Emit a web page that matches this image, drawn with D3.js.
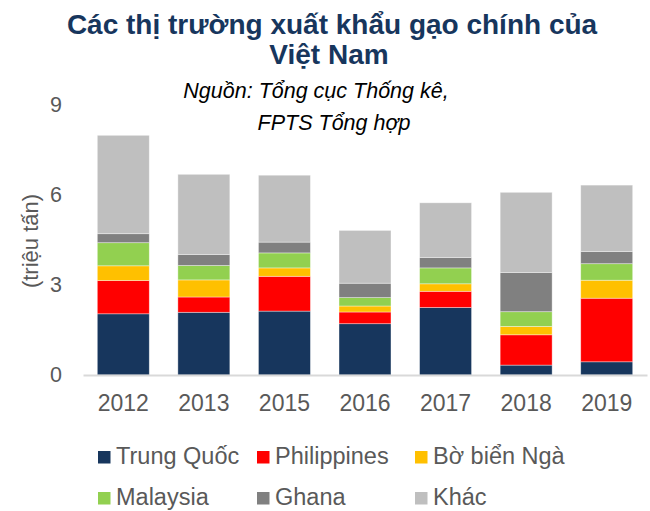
<!DOCTYPE html>
<html>
<head>
<meta charset="utf-8">
<script src="https://cdn.jsdelivr.net/npm/d3@7"></script>
<style>
  body { margin: 0; background: #fff; }
  svg text { font-family: "Liberation Sans", Arial, sans-serif; }
</style>
</head>
<body>
<svg id="chart" width="650" height="511"></svg>
<script>
// data (million tonnes)
var years = ["2012", "2013", "2015", "2016", "2017", "2018", "2019"];
var trungQuoc   = [2.04, 2.09, 2.13, 1.71, 2.25, 0.33, 0.44];
var philippines = [1.11, 0.51, 1.16, 0.39, 0.54, 1.01, 2.12];
var boBienNga   = [0.49, 0.57, 0.28, 0.20, 0.25, 0.28, 0.60];
var malaysia    = [0.77, 0.48, 0.50, 0.28, 0.53, 0.49, 0.55];
var ghana       = [0.30, 0.37, 0.36, 0.48, 0.35, 1.31, 0.41];
var khac        = [3.28, 2.67, 2.23, 1.76, 1.82, 2.67, 2.21];
var yTicks = [0, 3, 6, 9];

var seriesNames = ["Trung Quốc", "Philippines", "Bờ biển Ngà", "Malaysia", "Ghana", "Khác"];
var seriesValues = [trungQuoc, philippines, boBienNga, malaysia, ghana, khac];
var colors = ["#17365d", "#ff0000", "#ffc000", "#92d050", "#808080", "#bfbfbf"];

var svg = d3.select("#chart");

var margin = { top: 105, right: 3, bottom: 136, left: 83 };
var width = +svg.attr("width") - margin.left - margin.right;
var height = +svg.attr("height") - margin.top - margin.bottom;

var rows = years.map(function (y, i) {
    var row = { year: y };
    seriesNames.forEach(function (n, k) { row[n] = seriesValues[k][i]; });
    return row;
});

var stack = d3.stack().keys(seriesNames);
var layers = stack(rows);

var xScale = d3.scaleBand().domain(years).range([0, width])
    .paddingInner(0.355).paddingOuter(0.1775);
var yScale = d3.scaleLinear().domain([0, 9]).range([height, 0]);

var g = svg.append("g")
    .attr("transform", "translate(" + margin.left + "," + margin.top + ")");

// titles
svg.append("text").attr("x", 332).attr("y", 34).attr("text-anchor", "middle")
    .attr("font-size", 28).attr("font-weight", "bold").attr("fill", "#17365d")
    .text("Các thị trường xuất khẩu gạo chính của");
svg.append("text").attr("x", 329).attr("y", 64).attr("text-anchor", "middle")
    .attr("font-size", 28).attr("font-weight", "bold").attr("fill", "#17365d")
    .text("Việt Nam");
svg.append("text").attr("x", 316).attr("y", 98).attr("text-anchor", "middle")
    .attr("font-size", 21.5).attr("font-style", "italic").attr("fill", "#000")
    .text("Nguồn: Tổng cục Thống kê,");
svg.append("text").attr("x", 334).attr("y", 130).attr("text-anchor", "middle")
    .attr("font-size", 21.5).attr("font-style", "italic").attr("fill", "#000")
    .text("FPTS Tổng hợp");

// bars
g.selectAll(".layer")
    .data(layers)
    .enter().append("g")
    .attr("class", "layer")
    .attr("fill", function (d, i) { return colors[i]; })
    .selectAll("rect")
    .data(function (d) { return d; })
    .enter().append("rect")
    .attr("x", function (d) { return xScale(d.data.year); })
    .attr("y", function (d) { return yScale(d[1]); })
    .attr("width", xScale.bandwidth())
    .attr("height", function (d) { return yScale(d[0]) - yScale(d[1]); })
    .attr("stroke", "#ffffff")
    .attr("stroke-opacity", 0.5)
    .attr("stroke-width", 0.75);

// axes
var xAxis = d3.axisBottom(xScale).tickSizeInner(0).tickSizeOuter(0).tickPadding(20);
var yAxis = d3.axisLeft(yScale).tickValues(yTicks).tickSize(0).tickPadding(21);

var gx = g.append("g")
    .attr("class", "axis axis-x")
    .attr("transform", "translate(0," + height + ")")
    .call(xAxis);
gx.select(".domain").attr("stroke", "#d9d9d9").attr("stroke-width", 2);
gx.selectAll("text").attr("font-size", 23).attr("fill", "#595959")
    .attr("font-family", "Liberation Sans, Arial, sans-serif");

var gy = g.append("g")
    .attr("class", "axis axis-y")
    .call(yAxis);
gy.select(".domain").remove();
gy.selectAll("text").attr("font-size", 21.5).attr("fill", "#595959")
    .attr("font-family", "Liberation Sans, Arial, sans-serif");

svg.append("text")
    .attr("transform", "translate(38,241) rotate(-90)")
    .attr("text-anchor", "middle")
    .attr("font-size", 22).attr("fill", "#595959")
    .text("(triệu tấn)");

// legend
var legendX = [98, 257, 415];
var legendY = [464, 505];
var legend = svg.selectAll(".legend")
    .data(seriesNames)
    .enter().append("g")
    .attr("class", "legend")
    .attr("transform", function (d, i) {
        return "translate(" + legendX[i % 3] + "," + legendY[Math.floor(i / 3)] + ")";
    });
legend.append("rect")
    .attr("x", 0).attr("y", -13).attr("width", 12.5).attr("height", 12.5)
    .attr("fill", function (d, i) { return colors[i]; });
legend.append("text")
    .attr("x", 18).attr("y", 0)
    .attr("font-size", 23.5).attr("fill", "#595959")
    .text(function (d) { return d; });
</script>
</body>
</html>
